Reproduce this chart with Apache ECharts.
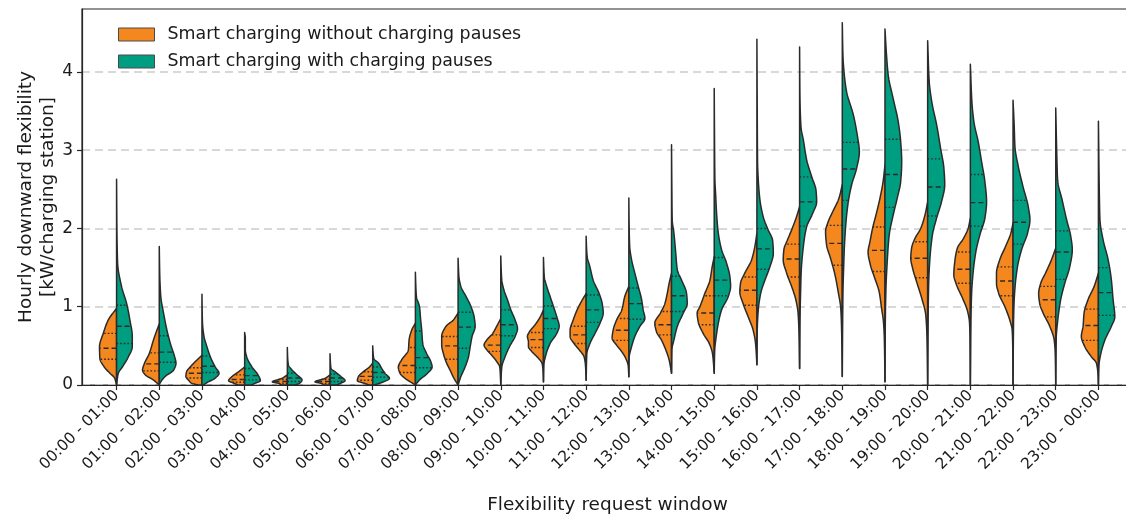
<!DOCTYPE html>
<html>
<head>
<meta charset="utf-8">
<script src="https://cdn.jsdelivr.net/npm/echarts@6/dist/echarts.min.js"></script>
<style>html,body{margin:0;padding:0;background:#fff}#chart{width:1126px;height:516px}</style>
</head>
<body>
<div id="chart"></div>
<script>
// ---------------- data ----------------
const windows = ['00:00 - 01:00','01:00 - 02:00','02:00 - 03:00','03:00 - 04:00','04:00 - 05:00','05:00 - 06:00',
  '06:00 - 07:00','07:00 - 08:00','08:00 - 09:00','09:00 - 10:00','10:00 - 11:00','11:00 - 12:00',
  '12:00 - 13:00','13:00 - 14:00','14:00 - 15:00','15:00 - 16:00','16:00 - 17:00','17:00 - 18:00',
  '18:00 - 19:00','19:00 - 20:00','20:00 - 21:00','21:00 - 22:00','22:00 - 23:00','23:00 - 00:00'];
const seriesNames = ['Smart charging without charging pauses', 'Smart charging with charging pauses'];
const yTicks = [0, 1, 2, 3, 4];

// quartiles (kW / charging station)
const noPauseQ1     = [0.33,0.18,0.09,0.035,0.02,0.02,0.06,0.16,0.33,0.43,0.48,0.53,0.57,0.64,0.77,1.02,1.38,1.53,1.45,1.37,1.30,1.14,0.87,0.57];
const noPauseMedian = [0.47,0.27,0.15,0.07,0.045,0.045,0.11,0.25,0.50,0.51,0.58,0.64,0.70,0.77,0.92,1.21,1.61,1.81,1.72,1.62,1.48,1.33,1.09,0.76];
const noPauseQ3     = [0.66,0.41,0.22,0.13,0.07,0.07,0.17,0.48,0.62,0.64,0.67,0.75,0.85,0.94,1.14,1.38,1.80,2.04,2.02,1.83,1.70,1.51,1.26,0.97];
const pauseQ1       = [0.53,0.29,0.16,0.065,0.045,0.045,0.10,0.22,0.47,0.63,0.72,0.80,0.84,0.94,1.14,1.48,2.03,2.36,2.27,2.16,2.03,1.80,1.35,0.89];
const pauseMedian   = [0.75,0.42,0.24,0.12,0.09,0.09,0.16,0.35,0.74,0.77,0.85,0.96,1.04,1.14,1.34,1.74,2.34,2.76,2.69,2.53,2.33,2.08,1.70,1.18];
const pauseQ3       = [1.02,0.63,0.37,0.21,0.15,0.14,0.23,0.69,0.93,0.96,1.01,1.15,1.24,1.39,1.63,2.00,2.66,3.10,3.14,2.89,2.69,2.36,1.97,1.50];

// density profiles: [value, relative density (1 = widest)]
const noPauseDensity = [
  [[0,0],[0.09,0.12],[0.15,0.39],[0.23,0.72],[0.34,0.98],[0.49,1.0],[0.66,0.78],[0.83,0.49],[0.98,0]],
  [[0,0],[0.064,0.34],[0.13,0.82],[0.19,0.98],[0.28,0.86],[0.40,0.59],[0.575,0.34],[0.70,0.14],[0.78,0]],
  [[0,0.2],[0.02,0.59],[0.055,0.76],[0.11,0.94],[0.17,0.9],[0.23,0.69],[0.32,0.29],[0.38,0]],
  [[0,0.4],[0.02,0.6],[0.055,0.94],[0.106,0.75],[0.17,0.35],[0.23,0]],
  [[0,0.35],[0.02,0.5],[0.04,0.88],[0.085,0.31],[0.13,0]],
  [[0,0.35],[0.02,0.5],[0.04,0.88],[0.085,0.29],[0.13,0]],
  [[0,0.2],[0.02,0.47],[0.055,0.9],[0.106,0.84],[0.17,0.55],[0.23,0.19],[0.28,0]],
  [[0,0],[0.03,0.22],[0.085,0.61],[0.15,0.9],[0.23,1.0],[0.32,0.81],[0.45,0.41],[0.575,0.37],[0.70,0.22],[0.79,0]],
  [[0,0],[0.085,0.24],[0.19,0.47],[0.30,0.71],[0.40,0.86],[0.51,0.96],[0.62,0.96],[0.75,0.71],[0.83,0.28],[0.92,0]],
  [[0,0],[0.1,0.02],[0.23,0.06],[0.30,0.24],[0.38,0.53],[0.45,0.82],[0.51,0.98],[0.575,0.82],[0.66,0.47],[0.75,0.24],[0.85,0]],
  [[0.04,0],[0.2,0.03],[0.28,0.09],[0.34,0.29],[0.43,0.69],[0.49,0.88],[0.55,0.88],[0.62,0.94],[0.68,0.82],[0.77,0.49],[0.87,0.19],[0.96,0]],
  [[0.06,0],[0.25,0.04],[0.36,0.12],[0.45,0.41],[0.53,0.71],[0.62,0.94],[0.70,0.94],[0.83,0.76],[0.96,0.53],[1.09,0.22],[1.17,0]],
  [[0.106,0],[0.25,0.04],[0.34,0.18],[0.43,0.43],[0.51,0.72],[0.60,0.98],[0.70,0.92],[0.83,0.72],[0.96,0.41],[1.13,0.24],[1.26,0]],
  [[0.15,0],[0.32,0.14],[0.45,0.34],[0.575,0.59],[0.68,0.88],[0.79,0.98],[0.92,0.65],[1.04,0.39],[1.17,0.25],[1.30,0.14],[1.43,0]],
  [[0.15,0],[0.40,0.1],[0.53,0.29],[0.66,0.65],[0.81,0.94],[0.92,1.0],[1.0,0.84],[1.17,0.55],[1.34,0.25],[1.51,0.12],[1.64,0]],
  [[0.26,0],[0.53,0.08],[0.70,0.22],[0.87,0.51],[1.04,0.81],[1.19,1.0],[1.30,0.96],[1.43,0.71],[1.60,0.31],[1.77,0.12],[1.94,0]],
  [[0.21,0],[0.7,0.04],[0.92,0.09],[1.09,0.22],[1.26,0.47],[1.43,0.76],[1.60,0.96],[1.73,0.92],[1.85,0.72],[1.98,0.47],[2.15,0.18],[2.28,0]],
  [[0.11,0],[0.7,0.04],[0.98,0.09],[1.19,0.24],[1.41,0.43],[1.62,0.69],[1.79,0.92],[1.96,0.98],[2.09,0.82],[2.21,0.57],[2.39,0.19],[2.56,0]],
  [[0.04,0],[0.6,0.04],[0.81,0.09],[0.98,0.2],[1.19,0.34],[1.36,0.59],[1.53,0.85],[1.70,0.99],[1.83,0.88],[2.0,0.73],[2.17,0.53],[2.39,0.29],[2.60,0.11],[2.81,0]],
  [[0,0],[0.6,0.04],[0.89,0.11],[1.11,0.35],[1.32,0.65],[1.49,0.88],[1.62,0.99],[1.75,0.94],[1.87,0.75],[2.0,0.41],[2.17,0.16],[2.34,0]],
  [[0,0],[0.6,0.02],[0.8,0.05],[0.94,0.16],[1.11,0.46],[1.28,0.81],[1.41,0.97],[1.58,0.91],[1.75,0.76],[1.87,0.41],[2.0,0.13],[2.13,0]],
  [[0,0],[0.5,0.02],[0.7,0.05],[0.83,0.19],[1.0,0.48],[1.17,0.84],[1.30,0.97],[1.43,0.97],[1.60,0.78],[1.77,0.44],[1.94,0.13],[2.07,0]],
  [[0,0],[0.4,0.03],[0.575,0.09],[0.75,0.35],[0.92,0.74],[1.04,0.94],[1.17,1.0],[1.30,0.88],[1.43,0.6],[1.60,0.25],[1.75,0]],
  [[0,0],[0.15,0.03],[0.28,0.12],[0.36,0.41],[0.49,0.8],[0.62,1.0],[0.75,0.9],[0.92,0.84],[1.09,0.61],[1.26,0.25],[1.43,0]]
];
const pauseDensity = [
  [[0,0],[0.15,0.1],[0.23,0.34],[0.36,0.69],[0.49,0.92],[0.62,0.92],[0.83,0.78],[1.04,0.59],[1.26,0.29],[1.56,0.06],[2.0,0.02],[2.63,0]],
  [[0,0],[0.03,0.06],[0.11,0.35],[0.19,0.84],[0.28,0.98],[0.36,0.9],[0.53,0.65],[0.70,0.45],[0.92,0.25],[1.13,0.09],[1.4,0.03],[1.77,0]],
  [[0,0.1],[0.03,0.29],[0.085,0.76],[0.15,1.0],[0.23,0.78],[0.36,0.49],[0.49,0.29],[0.62,0.12],[0.8,0.03],[1.16,0]],
  [[0,0.4],[0.02,0.59],[0.055,0.92],[0.13,0.78],[0.23,0.43],[0.36,0.12],[0.45,0.04],[0.60,0.04],[0.67,0]],
  [[0,0.45],[0.02,0.7],[0.064,0.86],[0.13,0.57],[0.19,0.28],[0.26,0.06],[0.35,0.02],[0.48,0]],
  [[0,0.4],[0.02,0.6],[0.055,0.88],[0.106,0.65],[0.17,0.29],[0.21,0.06],[0.3,0.02],[0.40,0]],
  [[0,0.1],[0.04,0.63],[0.085,0.98],[0.15,0.72],[0.21,0.53],[0.28,0.34],[0.34,0.06],[0.42,0.02],[0.50,0]],
  [[0,0],[0.064,0.24],[0.15,0.71],[0.23,0.98],[0.30,0.9],[0.40,0.66],[0.53,0.43],[0.70,0.37],[0.83,0.31],[1.0,0.24],[1.13,0.06],[1.3,0.02],[1.44,0]],
  [[0,0],[0.106,0.16],[0.23,0.41],[0.36,0.61],[0.49,0.71],[0.62,0.82],[0.75,1.0],[0.87,0.94],[1.0,0.76],[1.13,0.47],[1.26,0.16],[1.38,0.05],[1.5,0.02],[1.62,0]],
  [[0,0],[0.23,0.06],[0.36,0.25],[0.49,0.51],[0.62,0.84],[0.72,0.98],[0.83,0.84],[0.96,0.59],[1.09,0.39],[1.21,0.19],[1.34,0.06],[1.5,0.02],[1.65,0]],
  [[0.04,0],[0.25,0.02],[0.40,0.16],[0.53,0.39],[0.66,0.78],[0.75,0.92],[0.87,0.78],[1.0,0.59],[1.13,0.39],[1.26,0.19],[1.38,0.05],[1.5,0.02],[1.63,0]],
  [[0.06,0],[0.4,0.04],[0.53,0.22],[0.66,0.52],[0.79,0.81],[0.92,1.0],[1.04,0.94],[1.17,0.76],[1.34,0.41],[1.51,0.22],[1.64,0.06],[1.77,0.02],[1.90,0]],
  [[0.106,0],[0.35,0.02],[0.49,0.16],[0.62,0.35],[0.75,0.65],[0.85,0.94],[0.96,0.84],[1.09,0.75],[1.26,0.55],[1.43,0.35],[1.60,0.16],[1.77,0.05],[2.0,0.02],[2.39,0]],
  [[0.15,0],[0.45,0.02],[0.575,0.14],[0.75,0.34],[0.92,0.69],[1.04,0.92],[1.17,0.88],[1.34,0.59],[1.47,0.34],[1.68,0.25],[1.94,0.14],[2.11,0.04],[2.5,0.02],[3.07,0]],
  [[0.15,0],[0.45,0.03],[0.575,0.09],[0.79,0.24],[0.96,0.43],[1.13,0.82],[1.26,0.96],[1.38,0.92],[1.56,0.72],[1.73,0.43],[1.94,0.24],[2.19,0.14],[2.45,0.08],[2.62,0.04],[3.1,0.02],[3.79,0]],
  [[0.26,0],[0.7,0.02],[0.96,0.08],[1.17,0.22],[1.34,0.47],[1.51,0.76],[1.68,0.96],[1.85,0.92],[1.98,0.66],[2.15,0.37],[2.36,0.18],[2.62,0.08],[2.83,0.04],[3.5,0.02],[4.42,0]],
  [[0.21,0],[0.8,0.02],[1.2,0.06],[1.43,0.09],[1.77,0.22],[2.02,0.41],[2.19,0.76],[2.34,1.0],[2.49,0.96],[2.66,0.71],[2.88,0.41],[3.13,0.22],[3.30,0.08],[3.7,0.02],[4.32,0]],
  [[0.11,0],[0.8,0.02],[1.2,0.04],[1.5,0.08],[1.75,0.12],[2.09,0.22],[2.34,0.35],[2.56,0.55],[2.77,0.84],[2.98,1.0],[3.19,0.88],[3.45,0.65],[3.75,0.25],[3.96,0.12],[4.2,0.04],[4.63,0]],
  [[0.04,0],[0.8,0.02],[1.25,0.06],[1.53,0.12],[1.92,0.25],[2.17,0.48],[2.39,0.72],[2.60,0.92],[2.85,0.98],[3.11,0.92],[3.36,0.78],[3.66,0.48],[3.96,0.19],[4.22,0.09],[4.55,0]],
  [[0,0],[0.9,0.03],[1.3,0.06],[1.58,0.12],[1.92,0.28],[2.13,0.52],[2.34,0.81],[2.56,1.0],[2.77,0.95],[3.02,0.76],[3.32,0.53],[3.62,0.24],[3.88,0.09],[4.40,0]],
  [[0,0],[0.9,0.04],[1.2,0.08],[1.41,0.15],[1.70,0.32],[1.92,0.56],[2.13,0.85],[2.34,0.95],[2.60,0.85],[2.85,0.66],[3.11,0.46],[3.36,0.21],[3.62,0.09],[4.10,0]],
  [[0,0],[0.8,0.03],[1.05,0.06],[1.26,0.12],[1.51,0.26],[1.73,0.5],[1.94,0.85],[2.11,0.99],[2.28,0.89],[2.53,0.59],[2.79,0.31],[3.05,0.11],[3.30,0.07],[3.64,0]],
  [[0,0],[0.6,0.03],[0.83,0.12],[1.09,0.29],[1.30,0.53],[1.51,0.82],[1.73,0.97],[1.90,0.88],[2.11,0.64],[2.36,0.38],[2.62,0.11],[2.88,0.07],[3.54,0]],
  [[0,0],[0.25,0.03],[0.40,0.14],[0.575,0.38],[0.75,0.76],[0.87,0.96],[1.09,0.86],[1.34,0.76],[1.60,0.57],[1.85,0.28],[2.11,0.09],[2.36,0.06],[3.37,0]]
];

// ---------------- drawing ----------------
const ORANGE = '#F5871F', TEAL = '#009E80', EDGE = '#2b2b2b';
const FONT = 'DejaVu Sans';
const HALF = 0.4; // max half-width as fraction of category spacing

function monotone(knots) {
  const n = knots.length, x = knots.map(k => k[0]), y = knots.map(k => k[1]);
  const h = [], m = [];
  for (let i = 0; i < n - 1; i++) { h[i] = x[i + 1] - x[i]; m[i] = (y[i + 1] - y[i]) / h[i]; }
  const t = new Array(n);
  t[0] = m[0]; t[n - 1] = m[n - 2];
  for (let i = 1; i < n - 1; i++) {
    if (m[i - 1] * m[i] <= 0) t[i] = 0;
    else { const w1 = 2 * h[i] + h[i - 1], w2 = h[i] + 2 * h[i - 1]; t[i] = (w1 + w2) / (w1 / m[i - 1] + w2 / m[i]); }
  }
  if (n > 2) {
    if (m[0] * t[1] <= 0) t[0] = 0; else t[0] = Math.min(t[0], 3 * m[0]);
  }
  return function (v) {
    if (v <= x[0]) return y[0];
    if (v >= x[n - 1]) return y[n - 1];
    let i = 0; while (i < n - 2 && v > x[i + 1]) i++;
    const s = (v - x[i]) / h[i], s2 = s * s, s3 = s2 * s;
    const val = (2 * s3 - 3 * s2 + 1) * y[i] + (s3 - 2 * s2 + s) * h[i] * t[i] + (-2 * s3 + 3 * s2) * y[i + 1] + (s3 - s2) * h[i] * t[i + 1];
    return Math.max(0, val);
  };
}

function makeSeries(name, color, side, profiles, q1, med, q3) {
  const fns = profiles.map(monotone);
  return {
    name: name, type: 'custom', clip: true,
    itemStyle: { color: color },
    data: windows.map((w, i) => [i, med[i]]),
    renderItem: function (params, api) {
      const i = api.value(0);
      const prof = profiles[i], f = fns[i];
      const cx = api.coord([i, 0])[0];
      const band = api.size([1, 0])[0];
      const hw = HALF * band;
      const v0 = prof[0][0], v1 = prof[prof.length - 1][0];
      const pts = [[cx, api.coord([i, v0])[1]]];
      const N = 160;
      for (let k = 0; k <= N; k++) {
        const v = v0 + (v1 - v0) * k / N;
        pts.push([cx + side * f(v) * hw, api.coord([i, v])[1]]);
      }
      pts.push([cx, api.coord([i, v1])[1]]);
      const children = [{
        type: 'polygon', shape: { points: pts },
        style: { fill: color, stroke: EDGE, lineWidth: 1.5, lineJoin: 'round' }
      }];
      const qs = [[q1[i], [1.6, 2]], [med[i], [5, 3]], [q3[i], [1.6, 2]]];
      qs.forEach(function (q) {
        const y = api.coord([i, q[0]])[1];
        children.push({
          type: 'line',
          shape: { x1: cx, y1: y, x2: cx + side * f(q[0]) * hw, y2: y },
          style: { stroke: EDGE, lineWidth: 1.4, lineDash: q[1] }
        });
      });
      return { type: 'group', children: children };
    }
  };
}

const chart = echarts.init(document.getElementById('chart'), null, { renderer: 'canvas' });
const xTicks = windows.map((w, i) => i);
chart.setOption({
  animation: false,
  backgroundColor: '#ffffff',
  grid: { left: 82, right: -7, top: 9, bottom: 131, show: true, borderColor: '#262626', borderWidth: 1.2,
          containLabel: false, outerBoundsMode: 'none' },
  legend: {
    orient: 'vertical', left: 118, top: 26, padding: 0, itemWidth: 36, itemHeight: 13, itemGap: 10,
    icon: 'rect', selectedMode: false,
    textStyle: { fontFamily: FONT, fontSize: 17.4, color: '#1a1a1a', lineHeight: 16, padding: [0, 0, 0, 8] },
    data: [
      { name: seriesNames[0], itemStyle: { color: ORANGE, borderColor: '#4a4a4a', borderWidth: 1 } },
      { name: seriesNames[1], itemStyle: { color: TEAL, borderColor: '#4a4a4a', borderWidth: 1 } }
    ]
  },
  xAxis: {
    type: 'value', min: -0.81, max: 23.81,
    name: 'Flexibility request window', nameLocation: 'middle', nameGap: 109, nameMoveOverlap: false,
    nameTextStyle: { fontFamily: FONT, fontSize: 18.5, color: '#1a1a1a', lineHeight: 22 },
    axisLine: { show: true, onZero: false, lineStyle: { color: '#262626', width: 1.2 } },
    axisTick: { show: true, length: 5, customValues: xTicks, lineStyle: { color: '#262626', width: 1.2 } },
    axisLabel: {
      customValues: xTicks, rotate: 45, margin: 8, fontFamily: FONT, fontSize: 15.5, color: '#1a1a1a',
      formatter: function (v) { return windows[Math.round(v)]; }
    },
    splitLine: { show: false }
  },
  yAxis: {
    type: 'value', min: 0, max: 4.805,
    name: 'Hourly downward flexibility\n[kW/charging station]', nameLocation: 'middle', nameGap: 23, nameMoveOverlap: false,
    nameTextStyle: { fontFamily: FONT, fontSize: 18.5, color: '#1a1a1a', lineHeight: 22 },
    axisLine: { show: true, onZero: false, lineStyle: { color: '#262626', width: 1.2 } },
    axisTick: { show: true, length: 5, customValues: yTicks, lineStyle: { color: '#262626', width: 1.2 } },
    axisLabel: { customValues: yTicks, margin: 9, fontFamily: FONT, fontSize: 17, color: '#1a1a1a' },
    splitLine: { show: true, lineStyle: { color: '#cccccc', width: 1.6, type: [8, 5] } }
  },
  series: [
    makeSeries(seriesNames[0], ORANGE, -1, noPauseDensity, noPauseQ1, noPauseMedian, noPauseQ3),
    makeSeries(seriesNames[1], TEAL, 1, pauseDensity, pauseQ1, pauseMedian, pauseQ3)
  ]
});
</script>
</body>
</html>
